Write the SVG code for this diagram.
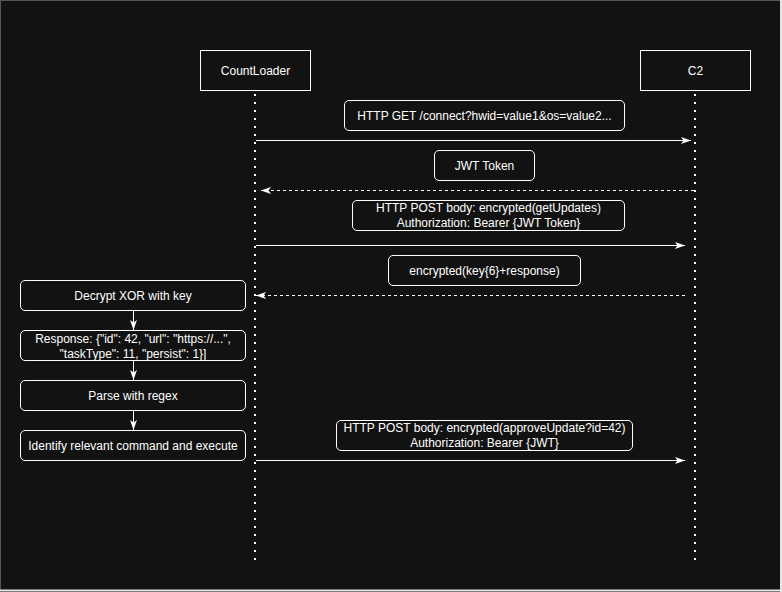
<svg xmlns="http://www.w3.org/2000/svg" width="782" height="592" viewBox="0 0 782 592">
<style>
text{font-family:"Liberation Sans",Arial,sans-serif;font-size:12px;fill:#ffffff;text-anchor:middle}
.box{fill:#121212;stroke:#ffffff;stroke-width:1}
.lbl{fill:#121212;stroke:#ffffff;stroke-width:1}
.life{stroke:#ffffff;stroke-width:2;stroke-dasharray:2 6;fill:none}
.msg{stroke:#ffffff;stroke-width:1;fill:none}
.dash{stroke:#ffffff;stroke-width:1;stroke-dasharray:3 3;fill:none}
</style>
<defs>
<marker id="ah" markerUnits="userSpaceOnUse" markerWidth="12" markerHeight="10" refX="10" refY="3.5" orient="auto">
<path d="M0,0 L10,3.5 L0,7 L2.5,3.5 Z" fill="#ffffff"/>
</marker>
</defs>
<rect x="0" y="0" width="782" height="592" fill="#121212"/>
<line x1="0.5" y1="0" x2="0.5" y2="591" stroke="#555" stroke-width="1"/>
<line x1="0" y1="0.5" x2="781" y2="0.5" stroke="#555" stroke-width="1"/>
<line x1="781" y1="0" x2="781" y2="592" stroke="#e6e6e6" stroke-width="2"/>
<line x1="0" y1="590.5" x2="782" y2="590.5" stroke="#e6e6e6" stroke-width="2"/>

<g id="lifelines">
<line class="life" x1="255" y1="94" x2="255" y2="560"/>
<line class="life" x1="695" y1="94" x2="695" y2="560"/>
</g>

<g id="connectors">
<line class="msg" x1="256" y1="140.5" x2="691" y2="140.5" marker-end="url(#ah)"/>
<line class="dash" x1="694" y1="190.5" x2="261" y2="190.5" marker-end="url(#ah)"/>
<line class="msg" x1="256" y1="245.5" x2="685" y2="245.5" marker-end="url(#ah)"/>
<line class="dash" x1="685" y1="295.5" x2="256" y2="295.5" marker-end="url(#ah)"/>
<line class="msg" x1="256" y1="460.5" x2="685" y2="460.5" marker-end="url(#ah)"/>
<line class="msg" x1="133.5" y1="310" x2="133.5" y2="330" marker-end="url(#ah)"/>
<line class="msg" x1="133.5" y1="360" x2="133.5" y2="380" marker-end="url(#ah)"/>
<line class="msg" x1="133.5" y1="410" x2="133.5" y2="430" marker-end="url(#ah)"/>
</g>

<g id="countloader">
<rect class="box" x="200.5" y="50.5" width="110" height="40"/>
<text x="255.5" y="74.5">CountLoader</text>
</g>
<g id="c2">
<rect class="box" x="640.5" y="50.5" width="110" height="40"/>
<text x="695.5" y="74.5">C2</text>
</g>

<g id="msg1-label">
<rect class="lbl" x="344.5" y="100.5" width="280" height="30" rx="4.5"/>
<text x="484.5" y="119.5">HTTP GET /connect?hwid=value1&amp;os=value2...</text>
</g>
<g id="msg2-label">
<rect class="lbl" x="434.5" y="150.5" width="100" height="30" rx="4.5"/>
<text x="484.5" y="169.5">JWT Token</text>
</g>
<g id="msg3-label">
<rect class="lbl" x="352.5" y="200.5" width="272" height="30" rx="4.5"/>
<text x="488.5" y="212">HTTP POST body: encrypted(getUpdates)</text>
<text x="488.5" y="227">Authorization: Bearer {JWT Token}</text>
</g>
<g id="msg4-label">
<rect class="lbl" x="388.5" y="255.5" width="192" height="30" rx="4.5"/>
<text x="484.5" y="274.5">encrypted(key{6}+response)</text>
</g>
<g id="msg5-label">
<rect class="lbl" x="336.5" y="420.5" width="296" height="30" rx="4.5"/>
<text x="484.5" y="432">HTTP POST body: encrypted(approveUpdate?id=42)</text>
<text x="484.5" y="447">Authorization: Bearer {JWT}</text>
</g>

<g id="decrypt">
<rect class="lbl" x="20.5" y="280.5" width="225" height="30" rx="4.5"/>
<text x="133" y="299.5">Decrypt XOR with key</text>
</g>
<g id="response">
<rect class="lbl" x="20.5" y="330.5" width="225" height="30" rx="4.5"/>
<text x="133" y="342.5">Response: {"id": 42, "url": "https://...",</text>
<text x="133" y="357.5">"taskType": 11, "persist": 1}]</text>
</g>
<g id="parse">
<rect class="lbl" x="20.5" y="380.5" width="225" height="30" rx="4.5"/>
<text x="133" y="399.5">Parse with regex</text>
</g>
<g id="identify">
<rect class="lbl" x="20.5" y="430.5" width="225" height="30" rx="4.5"/>
<text x="133" y="449.5">Identify relevant command and execute</text>
</g>
</svg>
